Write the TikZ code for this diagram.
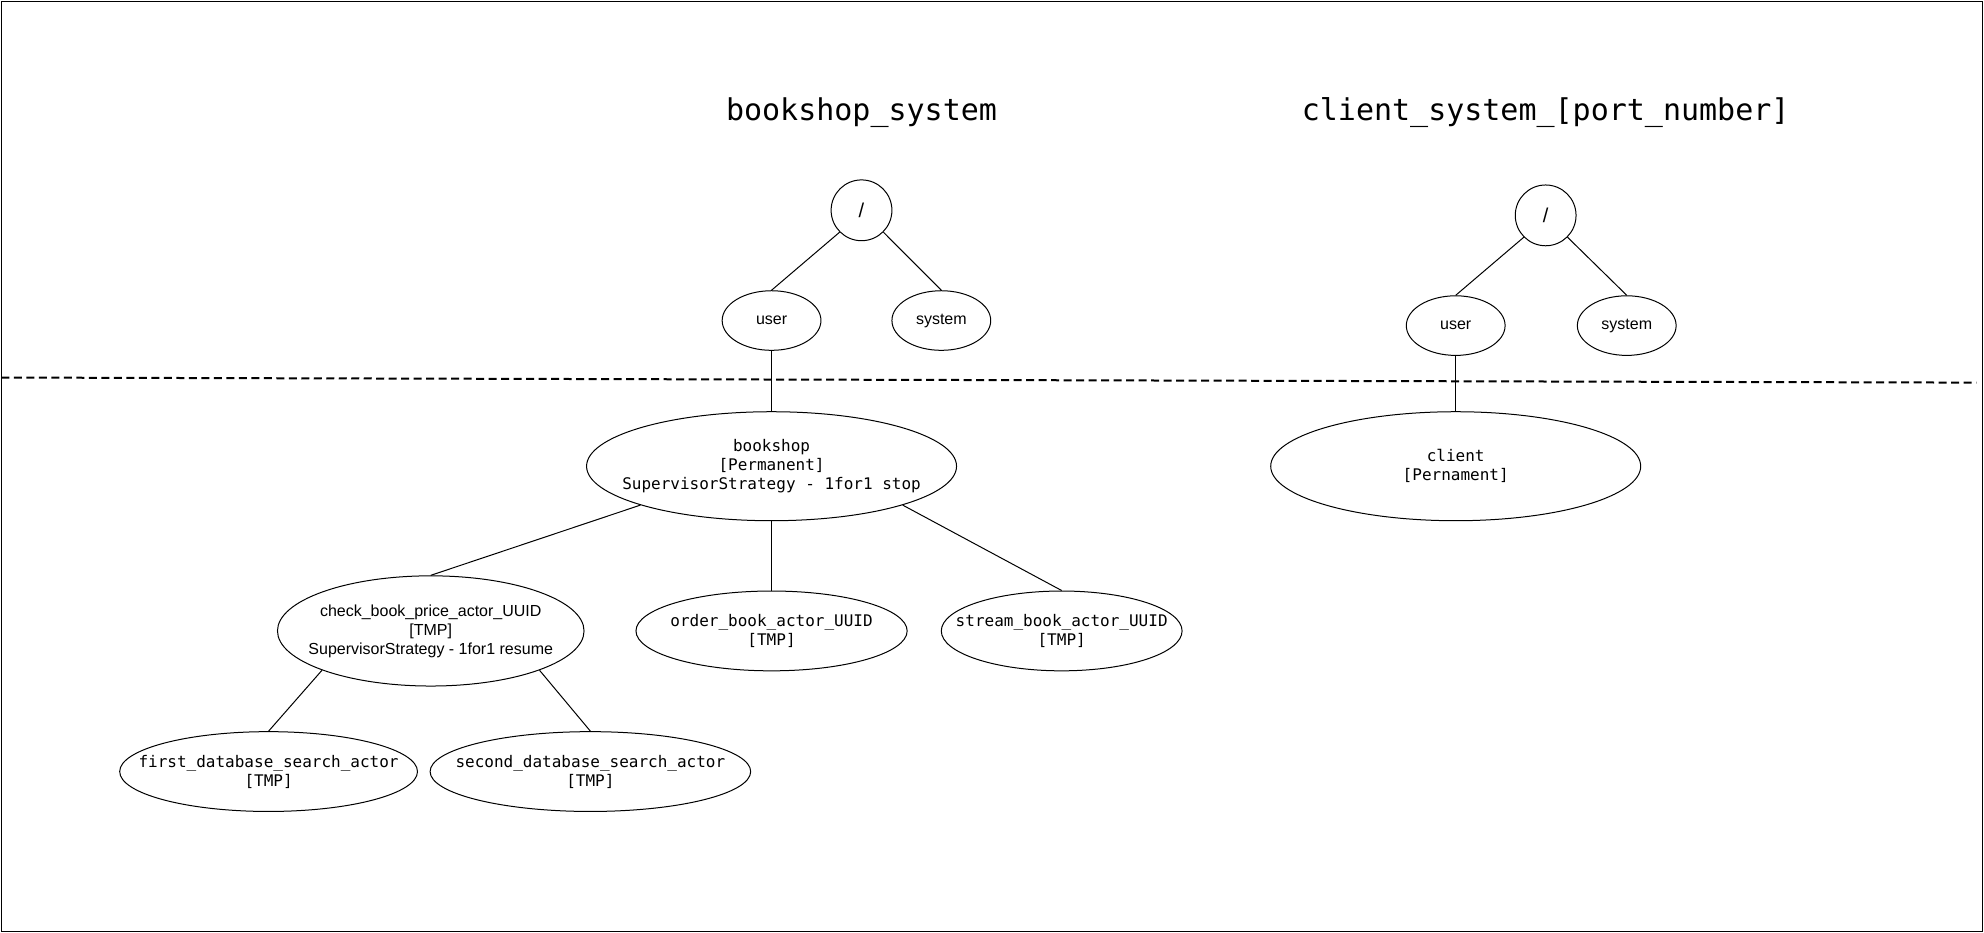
\documentclass[tikz,border=0pt]{standalone}
\usepackage{fontspec}
\setmainfont{Liberation Sans}
\newfontfamily\monofont{DejaVu Sans Mono}
\usetikzlibrary{shapes.geometric}

\begin{document}
\begin{tikzpicture}[x=0.6335pt, y=-0.6335pt,
  every node/.style={inner sep=0pt},
  actor/.style 2 args={draw, ellipse, line width=0.5pt, minimum width=#1, minimum height=#2},
  rootnode/.style={draw, circle, line width=0.5pt, minimum size=30.4pt, font=\fontsize{10}{12}\selectfont},
  small/.style={actor={49.4pt}{29.8pt}, font=\fontsize{8}{9.5}\selectfont},
  monotxt/.style={align=center, font=\monofont\fontsize{8}{9.5}\selectfont},
  sanstxt/.style={align=center, font=\fontsize{8}{9.5}\selectfont},
  title/.style={anchor=base, font=\monofont\fontsize{15}{18}\selectfont},
  link/.style={line width=0.5pt}]
\useasboundingbox (0,0) rectangle (1566,736);
%%%% Frame:
\draw[line width=0.5pt] (1,1) rectangle (1564.5,735.5);

%%%% Titles
\node[title] (titleA) at (680,95.5) {bookshop\_system};
\node[title] (titleB) at (1220,95.5) {client\_system\_[port\_number]};

%%%% Dashed separator
\coordinate (dashL) at (1,298);
\coordinate (dashR) at (1560,302);
\draw[line width=1pt, dash pattern=on 4pt off 2.25pt] (dashL) -- (dashR);

%%%% bookshop_system tree
\node[rootnode] (rootA) at (680,166) {/};
\node[small] (userA) at (609,253) {user};
\node[small] (systemA) at (743,253) {system};
\node[actor={185pt}{54.5pt}, label={[monotxt]center:{bookshop\\{[Permanent]}\\SupervisorStrategy - 1for1 stop}}] (bookshop) at (609,368) {};
\node[actor={153.3pt}{55.1pt}, label={[sanstxt]center:{check\_book\_price\_actor\_UUID\\{[TMP]}\\SupervisorStrategy - 1for1 resume}}] (checkprice) at (340,498) {};
\node[actor={135.6pt}{39.9pt}, label={[monotxt]center:{order\_book\_actor\_UUID\\{[TMP]}}}] (orderbook) at (609,498) {};
\node[actor={120.4pt}{39.9pt}, label={[monotxt]center:{stream\_book\_actor\_UUID\\{[TMP]}}}] (streambook) at (838,498) {};
\node[actor={148.9pt}{39.9pt}, label={[monotxt]center:{first\_database\_search\_actor\\{[TMP]}}}] (firstdb) at (212,609) {};
\node[actor={160.3pt}{39.9pt}, label={[monotxt]center:{second\_database\_search\_actor\\{[TMP]}}}] (seconddb) at (466,609) {};

\draw[link] (rootA.south west) -- (userA.north);
\draw[link] (rootA.south east) -- (systemA.north);
\draw[link] (userA.south) -- (bookshop.north);
\draw[link] (bookshop.south west) -- (checkprice.north);
\draw[link] (bookshop.south) -- (orderbook.north);
\draw[link] (bookshop.south east) -- (streambook.north);
\draw[link] (checkprice.south west) -- (firstdb.north);
\draw[link] (checkprice.south east) -- (seconddb.north);

%%%% client_system tree
\node[rootnode] (rootB) at (1220,170) {/};
\node[small] (userB) at (1149,257) {user};
\node[small] (systemB) at (1284,257) {system};
\node[actor={185pt}{54.5pt}, label={[monotxt]center:{client\\{[Pernament]}}}] (client) at (1149,368) {};

\draw[link] (rootB.south west) -- (userB.north);
\draw[link] (rootB.south east) -- (systemB.north);
\draw[link] (userB.south) -- (client.north);
\end{tikzpicture}
\end{document}
